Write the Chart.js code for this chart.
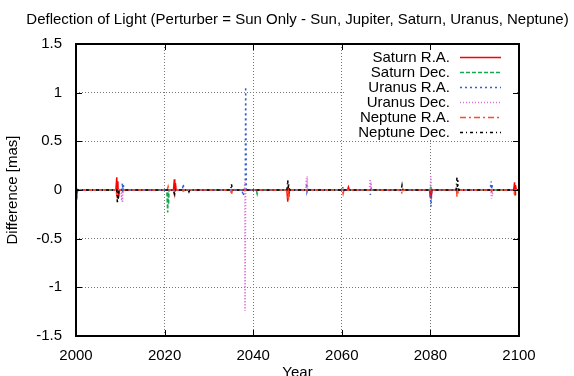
<!DOCTYPE html>
<html><head><meta charset="utf-8">
<script src="https://cdn.jsdelivr.net/npm/chart.js@4/dist/chart.umd.min.js"></script>
<style>html,body{margin:0;padding:0;background:#fff;overflow:hidden}</style>
</head><body>
<canvas id="c" width="574" height="376"></canvas>
<script>
const chartTitle = 'Deflection of Light (Perturber = Sun Only - Sun, Jupiter, Saturn, Uranus, Neptune)';
const xAxisTitle = 'Year';
const yAxisTitle = 'Difference [mas]';
const seriesNames = ['Saturn R.A.', 'Saturn Dec.', 'Uranus R.A.', 'Uranus Dec.', 'Neptune R.A.', 'Neptune Dec.'];
const xTicks = [2000, 2020, 2040, 2060, 2080, 2100];
const yTicks = [-1.5, -1, -0.5, 0, 0.5, 1, 1.5];

const saturnRAYears  = [2000, 2000.2, 2000.4, 2009.0, 2009.2, 2009.3, 2009.45, 2009.55, 2009.7, 2022.0, 2022.2, 2022.3, 2022.45, 2022.6, 2047.6, 2047.8, 2047.9, 2048.05, 2048.2, 2061.3, 2061.5, 2061.7, 2079.8, 2080.0, 2080.1, 2080.25, 2080.4, 2098.8, 2099.0, 2099.1, 2099.2, 2099.4, 2100];
const saturnRAValues = [0, -0.04, 0, 0, 0.13, -0.03, 0.09, -0.06, 0, 0, 0.11, -0.02, 0.07, 0, 0, -0.12, 0.02, -0.07, 0, 0, 0.03, 0, 0, -0.08, 0.03, -0.05, 0, 0, 0.08, -0.05, 0.05, 0, 0];

const saturnDecYears  = [2000, 2000.1, 2000.3, 2020.5, 2020.7, 2020.8, 2020.9, 2021.0, 2040.7, 2040.9, 2041.1, 2079.9, 2080.05, 2080.2, 2100];
const saturnDecValues = [0, 0.02, 0, 0, -0.23, -0.02, -0.15, 0, 0, -0.04, 0, 0, 0.02, 0, 0];

const uranusRAYears  = [2000, 2010.3, 2010.5, 2010.55, 2010.7, 2010.8, 2010.9, 2024.0, 2024.2, 2024.4, 2037.5, 2037.7, 2038.2, 2038.3, 2038.45, 2051.9, 2052.1, 2052.15, 2052.3, 2066.3, 2066.45, 2066.55, 2066.7, 2079.9, 2080.15, 2080.3, 2093.5, 2093.7, 2093.8, 2093.9, 2094.0, 2100];
const uranusRAValues = [0, 0, 0.07, -0.03, 0.05, 0, 0, 0, 0.06, 0, 0, -0.06, 0, 1.06, 0, 0, 0.07, -0.02, 0, 0, -0.05, 0.03, 0, 0, -0.17, 0, 0, 0.09, -0.02, 0.06, 0, 0];

const uranusDecYears  = [2000, 2010.1, 2010.3, 2010.4, 2010.5, 2010.6, 2024.0, 2024.2, 2024.4, 2037.95, 2038.1, 2038.15, 2038.3, 2051.8, 2052.0, 2052.1, 2052.2, 2052.3, 2066.2, 2066.4, 2066.5, 2066.6, 2066.7, 2079.9, 2080.1, 2080.3, 2093.6, 2093.8, 2093.9, 2094.0, 2094.1, 2100];
const uranusDecValues = [0, 0, -0.11, 0.02, -0.13, 0, 0, -0.03, 0, 0, 0.08, -1.24, 0, 0, 0.12, 0.01, 0.14, 0, 0, 0.11, -0.01, 0.08, 0, 0, 0.14, 0, 0, -0.09, 0.02, -0.06, 0, 0];

const neptuneRAYears  = [2000, 2009.0, 2009.2, 2009.4, 2020.6, 2020.8, 2021.0, 2022.1, 2022.3, 2022.5, 2034.9, 2035.1, 2035.3, 2047.6, 2047.8, 2047.9, 2048.0, 2048.2, 2060.1, 2060.3, 2060.5, 2073.4, 2073.6, 2073.8, 2085.9, 2086.0, 2086.1, 2086.2, 2086.3, 2098.7, 2098.9, 2099.1, 2100];
const neptuneRAValues = [0, 0, -0.05, 0, 0, 0.035, 0, 0, -0.05, 0, 0, -0.05, 0, 0, -0.08, 0.03, -0.1, 0, 0, -0.04, 0, 0, -0.04, 0, 0, -0.07, 0.02, -0.05, 0, 0, -0.03, 0, 0];

const neptuneDecYears  = [2000, 2009.2, 2009.35, 2009.45, 2009.55, 2009.7, 2022.0, 2022.2, 2022.4, 2025.3, 2025.5, 2025.7, 2034.9, 2035.1, 2035.3, 2047.6, 2047.8, 2047.9, 2048.0, 2048.2, 2060.1, 2060.3, 2060.5, 2073.4, 2073.6, 2073.8, 2085.8, 2086.0, 2086.1, 2086.2, 2086.4, 2100];
const neptuneDecValues = [0, 0, -0.14, -0.02, -0.1, 0, 0, -0.04, 0, 0, -0.02, 0, 0, 0.06, 0, 0, 0.1, 0.01, 0.07, 0, 0, 0.03, 0, 0, 0.05, 0, 0, 0.13, 0.02, 0.1, 0, 0];

const seriesYears  = [saturnRAYears, saturnDecYears, uranusRAYears, uranusDecYears, neptuneRAYears, neptuneDecYears];
const seriesValues = [saturnRAValues, saturnDecValues, uranusRAValues, uranusDecValues, neptuneRAValues, neptuneDecValues];
const seriesColors = ['#ff0000', '#10a848', '#2f5fcf', '#e070d8', '#ff4a2a', '#000000'];
const seriesDashes = [[], [4, 2], [2, 3], [1, 2], [6, 3, 2, 3], [3, 3, 1, 3]];

const FONT = '"Liberation Sans", Arial, Helvetica, sans-serif';
Chart.defaults.font.family = FONT;
Chart.defaults.font.size = 15;
Chart.defaults.color = '#000';

const datasets = seriesNames.map((name, i) => ({
  label: name,
  data: seriesYears[i].map((yr, k) => ({x: yr, y: seriesValues[i][k]})),
  borderColor: seriesColors[i],
  backgroundColor: seriesColors[i],
  borderDash: seriesDashes[i],
  borderWidth: 1.5,
  pointRadius: 0,
  tension: 0,
  fill: false,
  order: seriesNames.length - i
}));

const keyPlugin = {
  id: 'keyBox',
  afterDatasetsDraw(chart) {
    const ctx = chart.ctx;
    ctx.save();
    ctx.fillStyle = '#fff';
    ctx.fillRect(345, 45, 170, 94);
    ctx.font = '15px ' + FONT;
    ctx.textAlign = 'right';
    ctx.textBaseline = 'middle';
    seriesNames.forEach((name, i) => {
      const y = 56.5 + i * 15.1;
      ctx.fillStyle = '#000';
      ctx.fillText(name, 450, y + 1);
      ctx.strokeStyle = seriesColors[i];
      ctx.lineWidth = 1.5;
      ctx.setLineDash(seriesDashes[i]);
      ctx.beginPath();
      ctx.moveTo(460, Math.round(y) + 0.5);
      ctx.lineTo(501, Math.round(y) + 0.5);
      ctx.stroke();
    });
    ctx.restore();
  }
};

const framePlugin = {
  id: 'frame',
  afterDraw(chart) {
    const {ctx, chartArea: a, scales} = chart;
    ctx.save();
    ctx.strokeStyle = '#000';
    ctx.lineWidth = 1;
    ctx.setLineDash([]);
    ctx.beginPath();
    xTicks.forEach(v => {
      const px = Math.round(scales.x.getPixelForValue(v)) + 0.5;
      ctx.moveTo(px, a.bottom); ctx.lineTo(px, a.bottom - 6);
      ctx.moveTo(px, a.top); ctx.lineTo(px, a.top + 6);
    });
    yTicks.forEach(v => {
      const py = Math.round(scales.y.getPixelForValue(v)) + 0.5;
      ctx.moveTo(a.left, py); ctx.lineTo(a.left + 6, py);
      ctx.moveTo(a.right, py); ctx.lineTo(a.right - 6, py);
    });
    ctx.stroke();
    ctx.lineWidth = 2;
    ctx.strokeRect(a.left, a.top, a.right - a.left, a.bottom - a.top);
    ctx.restore();
  }
};

new Chart(document.getElementById('c'), {
  type: 'line',
  data: {datasets},
  options: {
    responsive: false,
    animation: false,
    devicePixelRatio: 1,
    layout: {padding: {left: 21, right: 0, top: 0, bottom: 0}},
    plugins: {
      legend: {display: false},
      tooltip: {enabled: false},
      title: {display: true, text: chartTitle, font: {size: 15, weight: 'normal'}, color: '#000', padding: {top: 11, bottom: 15}}
    },
    scales: {
      x: {
        type: 'linear', min: 2000, max: 2100,
        afterBuildTicks: s => { s.ticks = xTicks.map(v => ({value: v})); },
        afterFit: s => { s.height = 40; },
        ticks: {autoSkip: false, maxRotation: 0, padding: 11, callback: v => String(v), font: {size: 15}, color: '#000'},
        grid: {color: '#777', lineWidth: 1, drawTicks: false},
        border: {display: false, dash: [1, 2]},
        title: {display: true, text: xAxisTitle, font: {size: 15}, color: '#000', padding: {top: 0, bottom: -6}}
      },
      y: {
        type: 'linear', min: -1.5, max: 1.5, position: 'left',
        afterBuildTicks: s => { s.ticks = yTicks.map(v => ({value: v})); },
        afterFit: s => { s.width = 55; },
        ticks: {padding: 14, callback: v => String(v), font: {size: 15}, color: '#000'},
        grid: {color: '#777', lineWidth: 1, drawTicks: false},
        border: {display: false, dash: [1, 2]},
        title: {display: true, text: yAxisTitle, font: {size: 15}, color: '#000', padding: {top: -17, bottom: 0}}
      },
      yR: {
        type: 'linear', min: -1.5, max: 1.5, position: 'right',
        afterFit: s => { s.width = 55; },
        ticks: {display: false},
        grid: {display: false, drawTicks: false},
        border: {display: false}
      }
    }
  },
  plugins: [keyPlugin, framePlugin]
});
</script>
</body></html>
